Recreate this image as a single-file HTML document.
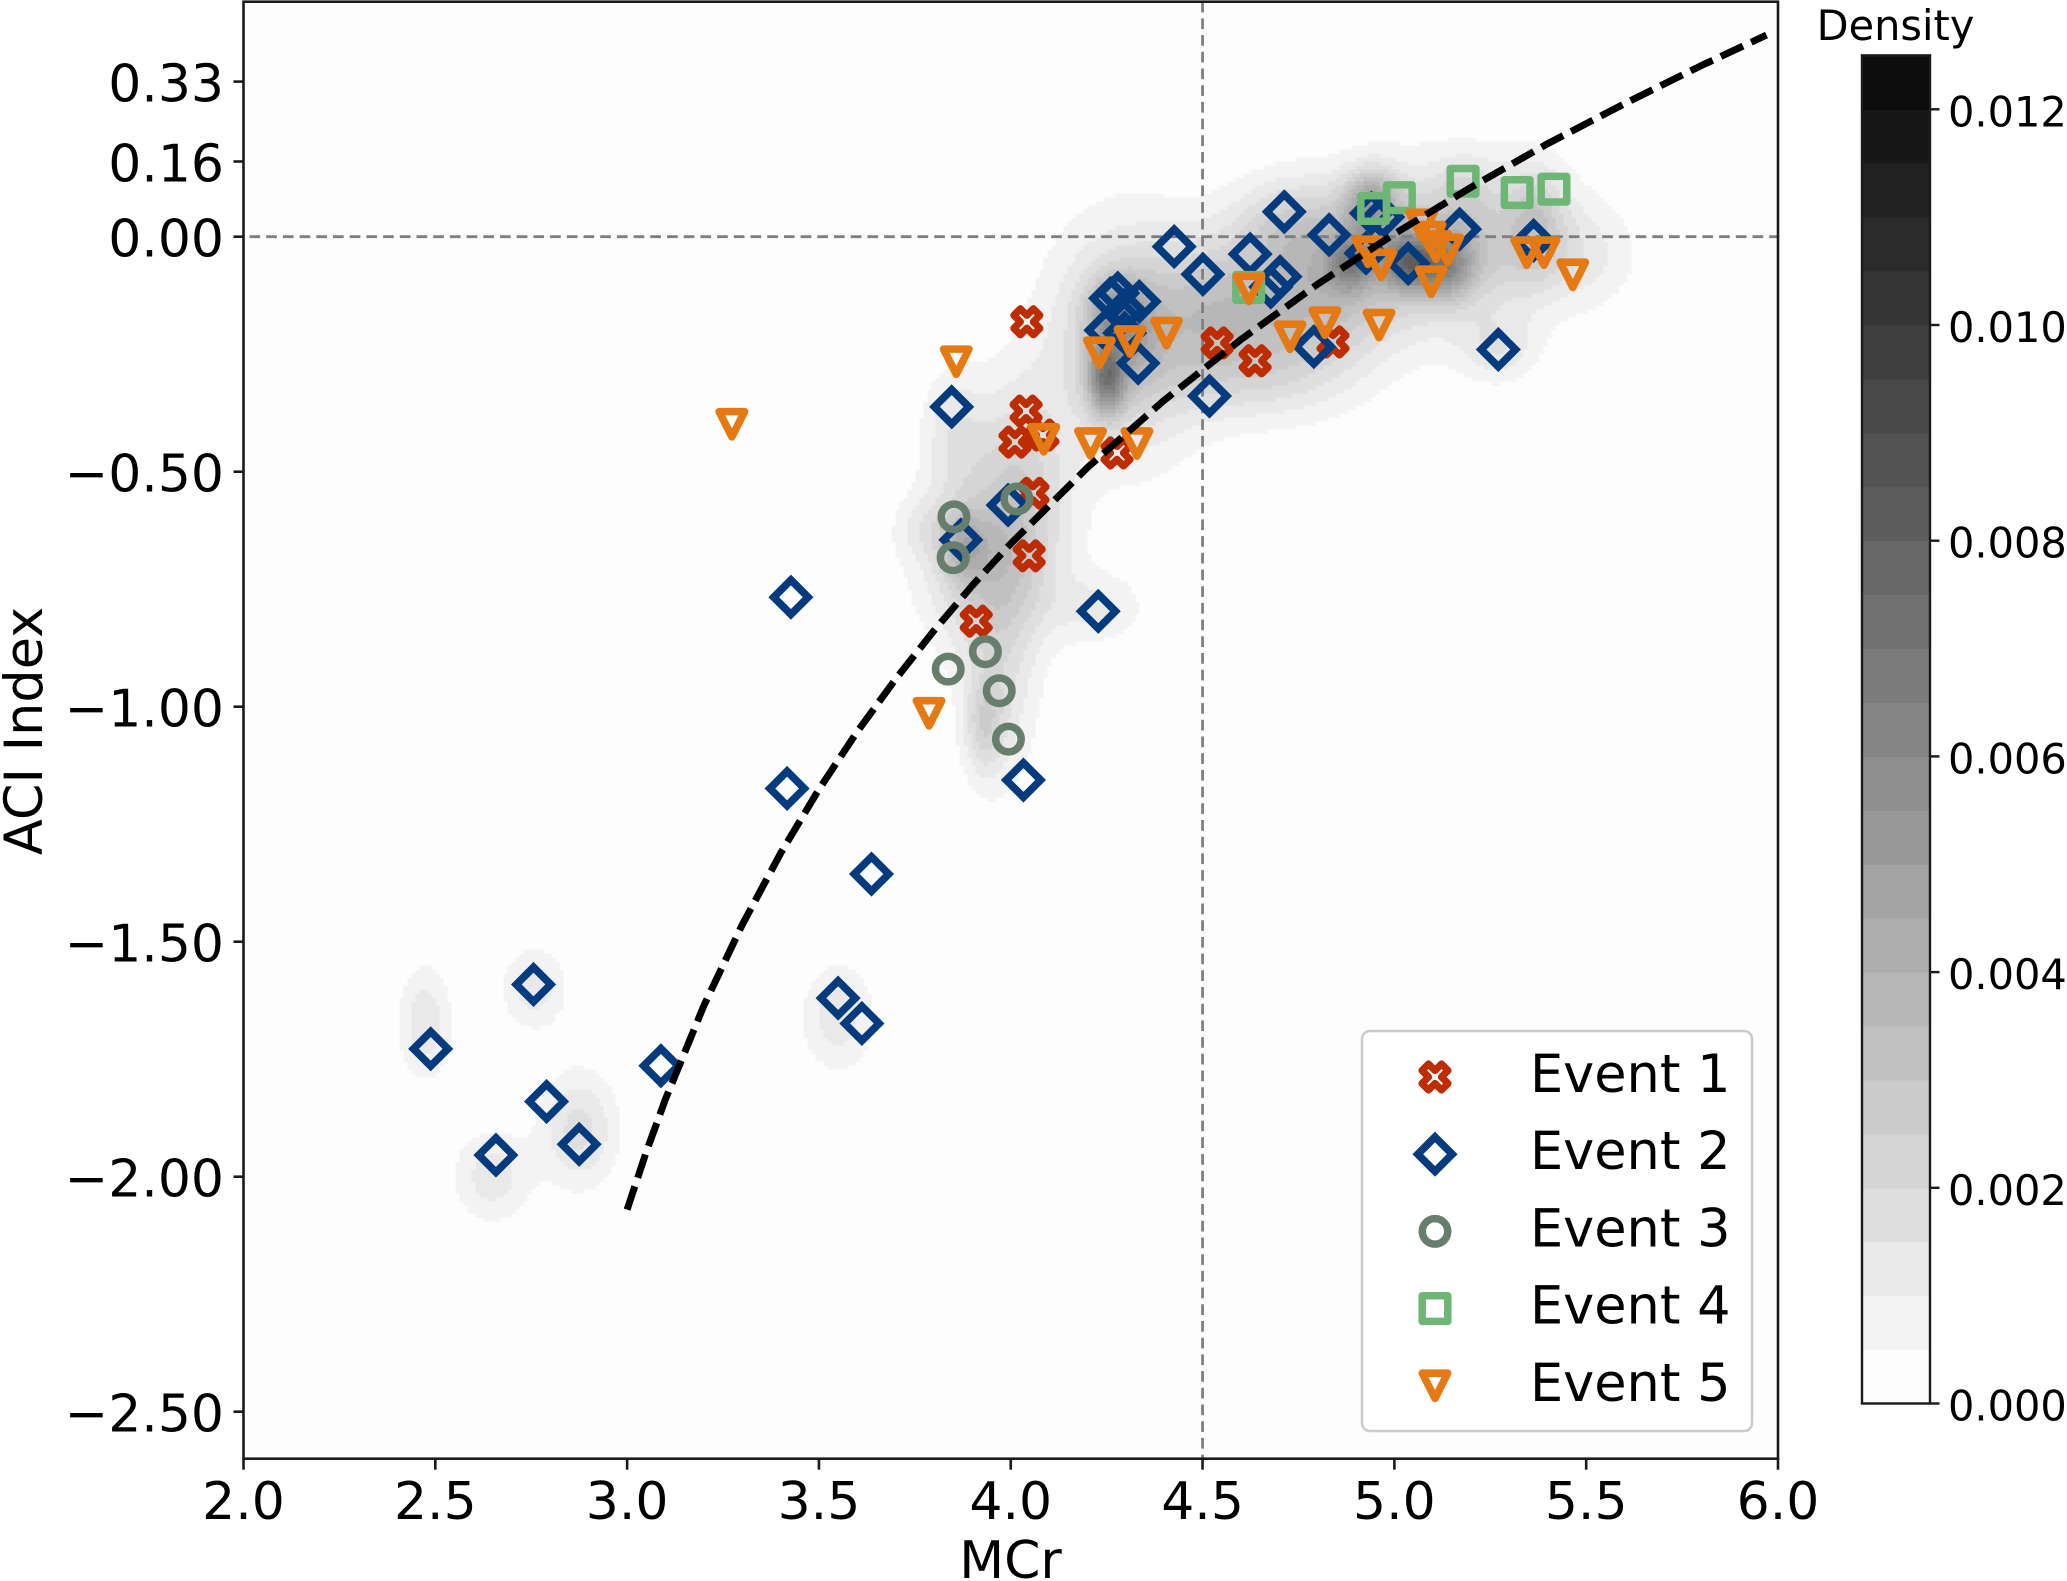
<!DOCTYPE html>
<html lang="en">
<head>
<meta charset="utf-8">
<title>ACI Index vs MCr density scatter</title>
<style>
html,body{margin:0;padding:0;background:#fff;width:2067px;height:1581px;overflow:hidden}
svg{display:block}
text{font-family:"DejaVu Sans","Liberation Sans",sans-serif;fill:#000}
</style>
</head>
<body>
<svg id="chart" xmlns="http://www.w3.org/2000/svg" width="2067" height="1581" viewBox="0 0 2067 1581">
  <rect x="243.5" y="1.7" width="1534.5" height="1457" fill="#fdfdfd"/>
  <defs><clipPath id="plotClip"><rect x="243.5" y="1.7" width="1534.5" height="1457"/></clipPath></defs>
  <g id="density" clip-path="url(#plotClip)"></g>
  <g id="refs"></g>
  <g id="points"></g>
  <g id="curve"></g>
  <g id="axes"></g>
  <g id="legend"></g>
  <g id="colorbar"></g>
  <text x="1010.5" y="1578" font-size="52" text-anchor="middle">MCr</text>
  <text transform="translate(42 731) rotate(-90)" font-size="52.5" text-anchor="middle">ACI Index</text>
  <text x="1895.5" y="40" font-size="41.5" text-anchor="middle">Density</text>
</svg>
<script>
const xTicks = [2.0, 2.5, 3.0, 3.5, 4.0, 4.5, 5.0, 5.5, 6.0];
const xTickLabels = ["2.0", "2.5", "3.0", "3.5", "4.0", "4.5", "5.0", "5.5", "6.0"];
const yTicks = [0.33, 0.16, 0, -0.5, -1, -1.5, -2, -2.5];
const yTickLabels = ["0.33", "0.16", "0.00", "\u22120.50", "\u22121.00", "\u22121.50", "\u22122.00", "\u22122.50"];
const cbTicks = [0, 0.002, 0.004, 0.006, 0.008, 0.010, 0.012];
const cbTickLabels = ["0.000", "0.002", "0.004", "0.006", "0.008", "0.010", "0.012"];
const cbLevelStep = 0.0005;
const cbLevelCount = 25;

const event1X = [4.042, 4.040, 4.011, 4.084, 4.277, 4.538, 4.637, 4.840, 4.058, 4.048, 3.910];
const event1Y = [-0.181, -0.371, -0.437, -0.422, -0.460, -0.226, -0.264, -0.224, -0.546, -0.679, -0.818];

const event2X = [4.426, 4.501, 4.624, 4.713, 4.702, 4.678, 4.830, 4.940, 4.970, 4.926, 5.036, 5.170, 5.363, 5.271, 4.790, 4.518, 3.846, 4.332, 4.335, 4.260, 4.279, 4.248, 4.297, 4.297, 3.993, 3.870, 4.228, 4.033, 3.427, 3.417, 3.637, 2.488, 2.756, 2.790, 2.875, 2.658, 3.088, 3.550, 3.612];
const event2Y = [-0.021, -0.080, -0.037, 0.053, -0.085, -0.107, 0.004, 0.050, 0.042, -0.035, -0.057, 0.016, -0.008, -0.240, -0.234, -0.339, -0.362, -0.269, -0.138, -0.131, -0.120, -0.199, -0.205, -0.156, -0.571, -0.645, -0.797, -1.156, -0.767, -1.174, -1.356, -1.728, -1.591, -1.840, -1.931, -1.954, -1.764, -1.620, -1.674];

const event3X = [3.852, 3.850, 4.016, 3.934, 3.837, 3.970, 3.994];
const event3Y = [-0.596, -0.683, -0.558, -0.883, -0.920, -0.966, -1.069];

const event4X = [5.179, 5.320, 5.416, 5.013, 4.946, 4.620];
const event4Y = [0.118, 0.094, 0.101, 0.083, 0.060, -0.108];

const event5X = [3.858, 4.231, 4.311, 4.406, 4.621, 4.728, 4.819, 4.960, 4.086, 4.208, 4.329, 4.931, 4.965, 5.071, 5.093, 5.108, 5.139, 5.096, 5.345, 5.390, 5.465, 3.273, 3.787];
const event5Y = [-0.266, -0.247, -0.223, -0.205, -0.111, -0.213, -0.183, -0.188, -0.431, -0.440, -0.440, -0.032, -0.060, 0.025, -0.001, -0.021, -0.028, -0.096, -0.034, -0.034, -0.081, -0.399, -1.014];

const curveX = [3.0, 3.05, 3.1, 3.2, 3.3, 3.4, 3.5, 3.6, 3.7, 3.8, 3.9, 4.0, 4.2, 4.4, 4.6, 4.8, 5.0, 5.2, 5.4, 5.6, 5.8, 5.97];
const curveY = [-2.070, -1.947, -1.835, -1.636, -1.464, -1.312, -1.176, -1.053, -0.941, -0.838, -0.742, -0.653, -0.491, -0.348, -0.219, -0.101, 0.006, 0.105, 0.198, 0.283, 0.364, 0.429];

const densityCenterX = [4.30, 4.55, 4.80, 5.05, 5.30, 5.50, 4.65, 4.02, 3.95, 3.97, 3.85, 4.72, 3.78, 4.25, 4.27, 4.33, 5.04, 4.885, 5.14, 4.94, 5.18, 5.37, 3.88, 3.93, 5.27, 4.23, 2.473, 2.758, 2.648, 2.875, 3.55];
const densityCenterY = [-0.22, -0.16, -0.12, -0.03, 0.0, -0.04, -0.30, -0.50, -0.70, -0.95, -0.42, 0.03, -0.62, -0.30, -0.16, -0.22, -0.055, -0.055, -0.06, 0.07, 0.10, 0.03, -0.66, -1.04, -0.24, -0.79, -1.673, -1.6, -2.0, -1.90, -1.662];
const densityPeak = [0.0025, 0.0026, 0.0028, 0.0025, 0.0016, 0.0009, 0.0010, 0.0019, 0.0026, 0.0014, 0.0012, 0.0014, 0.0008, 0.0050, 0.0028, 0.0012, 0.0048, 0.0034, 0.0034, 0.0035, 0.0008, 0.0015, 0.0020, 0.0016, 0.0012, 0.0010, 0.0014, 0.0013, 0.0013, 0.0017, 0.0013];
const densitySpreadX = [0.14, 0.13, 0.13, 0.16, 0.13, 0.10, 0.16, 0.09, 0.12, 0.07, 0.06, 0.10, 0.06, 0.035, 0.05, 0.05, 0.05, 0.04, 0.05, 0.05, 0.05, 0.05, 0.04, 0.035, 0.072, 0.085, 0.048, 0.058, 0.07, 0.07, 0.066];
const densitySpreadY = [0.17, 0.11, 0.12, 0.12, 0.11, 0.08, 0.07, 0.14, 0.12, 0.16, 0.10, 0.07, 0.05, 0.055, 0.05, 0.08, 0.04, 0.04, 0.05, 0.05, 0.05, 0.08, 0.05, 0.07, 0.05, 0.052, 0.084, 0.06, 0.068, 0.085, 0.08];

const SVGNS = "http://www.w3.org/2000/svg";
const plotLeft = 243.5, plotRight = 1778, plotTop = 1.7, plotBottom = 1458.7;
const xScale = v => plotLeft + (v - 2) / 4 * (plotRight - plotLeft);
const yScale = v => 236.7 - v * 470;
const cbLeft = 1862, cbRight = 1930, cbZeroY = 1403.5;
const cbScale = v => cbZeroY - v / 0.002 * 215.7;
const AXIS = "#1a1a1a";

function make(tag, attrs, parent) {
  const el = document.createElementNS(SVGNS, tag);
  for (const k in attrs) el.setAttribute(k, attrs[k]);
  parent.appendChild(el);
  return el;
}
function densityAt(x, y) {
  let d = 0;
  for (let i = 0; i < densityPeak.length; i++) {
    const dx = (x - densityCenterX[i]) / densitySpreadX[i];
    const dy = (y - densityCenterY[i]) / densitySpreadY[i];
    d += densityPeak[i] * Math.exp(-0.5 * (dx * dx + dy * dy));
  }
  return d;
}
function bandColor(i) {
  const g = 253 - 10 * i;
  return "rgb(" + g + "," + g + "," + g + ")";
}

/* density contours: one path per level */
const densityGroup = document.getElementById("density");
const cell = 4;
const nCols = Math.ceil((plotRight - plotLeft) / cell);
const nRows = Math.ceil((plotBottom - plotTop) / cell);
const field = [];
for (let r = 0; r < nRows; r++) {
  const row = new Float64Array(nCols);
  const yv = (236.7 - (plotTop + (r + 0.5) * cell)) / 470;
  for (let c = 0; c < nCols; c++) {
    const xv = 2 + ((c + 0.5) * cell) / (plotRight - plotLeft) * 4;
    row[c] = densityAt(xv, yv);
  }
  field.push(row);
}
for (let lvl = 1; lvl < cbLevelCount; lvl++) {
  const thr = lvl * cbLevelStep;
  let d = "";
  for (let r = 0; r < nRows; r++) {
    let start = -1;
    for (let c = 0; c <= nCols; c++) {
      const on = c < nCols && field[r][c] >= thr;
      if (on && start < 0) start = c;
      if (!on && start >= 0) {
        d += "M" + (plotLeft + start * cell) + " " + (plotTop + r * cell) + "h" + ((c - start) * cell) + "v" + cell + "h" + (-(c - start) * cell) + "z";
        start = -1;
      }
    }
  }
  if (d) {
    const band = make("path", {d: d, fill: bandColor(lvl), "shape-rendering": "crispEdges"}, densityGroup);
    
    
  }
}

/* reference lines */
const refs = document.getElementById("refs");
const hRef = make("line", {x1: plotLeft, x2: plotRight, y1: yScale(0), y2: yScale(0), stroke: "#7f7f7f", "stroke-width": 2.8, "stroke-dasharray": "10.7 6", "stroke-dashoffset": -6}, refs);


const vRef = make("line", {x1: xScale(4.5), x2: xScale(4.5), y1: plotTop, y2: plotBottom, stroke: "#7f7f7f", "stroke-width": 2.8, "stroke-dasharray": "10.7 6"}, refs);



/* markers */
const shapes = {
  x: "M-6.5 -13L0 -6.5L6.5 -13L13 -6.5L6.5 0L13 6.5L6.5 13L0 6.5L-6.5 13L-13 6.5L-6.5 0L-13 -6.5Z",
  diamond: "M0 -17.2L17.2 0L0 17.2L-17.2 0Z",
  circle: "M-12.75 0A12.75 12.75 0 1 1 12.75 0A12.75 12.75 0 1 1 -12.75 0Z",
  square: "M-12.8 -12.8H12.8V12.8H-12.8Z",
  tri: "M-12.7 -12.6H12.7L0 12.6Z"
};
const eventStyles = [
  {name: "event-1", label: "Event 1", shape: "x", color: "#bd2c03", w: 7.2},
  {name: "event-2", label: "Event 2", shape: "diamond", color: "#043b7e", w: 7.6},
  {name: "event-3", label: "Event 3", shape: "circle", color: "#667e6b", w: 7.5},
  {name: "event-4", label: "Event 4", shape: "square", color: "#6eb676", w: 7.5},
  {name: "event-5", label: "Event 5", shape: "tri", color: "#e57a14", w: 7.6}
];
const eventXs = [event1X, event2X, event3X, event4X, event5X];
const eventYs = [event1Y, event2Y, event3Y, event4Y, event5Y];
function marker(style, px, py, parent) {
  return make("path", {
    d: shapes[style.shape],
    transform: "translate(" + px + " " + py + ")",
    fill: "none",
    stroke: style.color,
    "stroke-width": style.w,
    "stroke-linejoin": style.shape === "diamond" ? "miter" : "round"
  }, parent);
}
const pointsGroup = document.getElementById("points");
eventStyles.forEach((style, s) => {
  eventXs[s].forEach((xv, i) => {
    const m = marker(style, xScale(xv), yScale(eventYs[s][i]), pointsGroup);
    
    
  });
});

/* fit curve */
const curveGroup = document.getElementById("curve");
const curvePts = curveX.map((xv, i) => xScale(xv).toFixed(1) + "," + yScale(curveY[i]).toFixed(1)).join(" ");
const curveLine = make("polyline", {points: curvePts, fill: "none", stroke: "#000", "stroke-width": 7, "stroke-dasharray": "24.5 9", "stroke-linejoin": "round"}, curveGroup);



/* axes */
const axes = document.getElementById("axes");
const spine = make("rect", {x: plotLeft, y: plotTop, width: plotRight - plotLeft, height: plotBottom - plotTop, fill: "none", stroke: AXIS, "stroke-width": 2.6}, axes);


xTicks.forEach((v, i) => {
  const t = make("line", {x1: xScale(v), x2: xScale(v), y1: plotBottom, y2: plotBottom + 11, stroke: AXIS, "stroke-width": 2.6}, axes);
  
  
  const l = make("text", {x: xScale(v), y: 1519, "font-size": 52, "text-anchor": "middle"}, axes);
  l.textContent = xTickLabels[i];
  
  
});
yTicks.forEach((v, i) => {
  const t = make("line", {x1: plotLeft - 10, x2: plotLeft, y1: yScale(v), y2: yScale(v), stroke: AXIS, "stroke-width": 2.6}, axes);
  
  
  const l = make("text", {x: 224, y: yScale(v) + 20, "font-size": 52, "text-anchor": "end"}, axes);
  l.textContent = yTickLabels[i];
  
  
});

/* legend */
const legend = document.getElementById("legend");
const legendBox = make("rect", {x: 1362, y: 1031, width: 390, height: 400, rx: 8, ry: 8, fill: "#fff", "fill-opacity": 0.95, stroke: "#cccccc", "stroke-width": 2.6}, legend);


eventStyles.forEach((style, i) => {
  const cy = 1077 + i * 77.2;
  const m = marker(style, 1435, cy, legend);
  
  
  const l = make("text", {x: 1530, y: cy + 15, "font-size": 52.5}, legend);
  l.textContent = style.label;
  
  
});

/* colorbar */
const cb = document.getElementById("colorbar");
for (let i = 0; i < cbLevelCount; i++) {
  const y0 = cbScale(i * cbLevelStep), y1 = cbScale((i + 1) * cbLevelStep);
  const r = make("rect", {x: cbLeft, y: y1, width: cbRight - cbLeft, height: y0 - y1 + 0.5, fill: bandColor(i), "shape-rendering": "crispEdges"}, cb);
  
  
}
const cbFrame = make("rect", {x: cbLeft, y: cbScale(cbLevelCount * cbLevelStep), width: cbRight - cbLeft, height: cbZeroY - cbScale(cbLevelCount * cbLevelStep), fill: "none", stroke: AXIS, "stroke-width": 2.4}, cb);


cbTicks.forEach((v, i) => {
  const t = make("line", {x1: cbRight, x2: cbRight + 9.5, y1: cbScale(v), y2: cbScale(v), stroke: AXIS, "stroke-width": 2.4}, cb);
  
  
  const l = make("text", {x: 1948, y: cbScale(v) + 17, "font-size": 41.5}, cb);
  l.textContent = cbTickLabels[i];
  
  
});
</script>
</body>
</html>
